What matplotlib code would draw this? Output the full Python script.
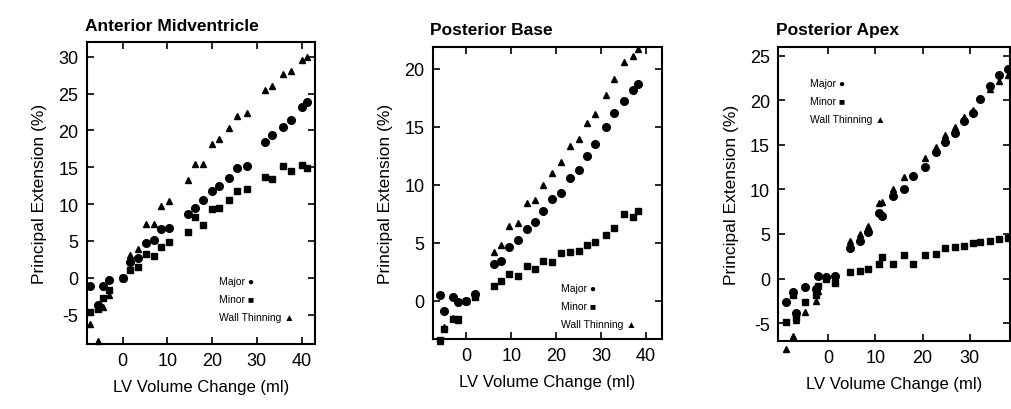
import matplotlib
matplotlib.use("Agg")
import matplotlib.pyplot as plt

plt.rcParams["font.family"] = ["Liberation Sans", "DejaVu Sans"]
plt.rcParams["axes.unicode_minus"] = False

# Anterior Midventricle
am_x = [-7.4, -5.6, -4.3, -3.0, 0, 1.6, 3.5, 5.2, 6.9, 8.5, 10.4, 14.5, 16.2, 18, 20,
        21.6, 23.8, 25.6, 27.7, 31.8, 33.4, 35.9, 37.6, 40.2, 41.3]
am_major = [-1.1, -3.7, -1.1, -0.3, 0, 2.2, 2.7, 4.7, 5.1, 6.6, 6.7, 8.6, 9.4, 10.5, 11.8,
            12.5, 13.5, 14.9, 15.2, 18.4, 19.4, 20.4, 21.4, 23.2, 23.9]
am_minor = [-4.7, -4.2, -2.7, -1.7, 0, 1.0, 1.5, 3.2, 3.0, 4.2, 4.9, 6.2, 8.3, 7.1, 9.3,
            9.5, 10.5, 11.8, 12.1, 13.7, 13.4, 15.1, 14.5, 15.3, 14.9]
am_wall = [-6.3, -8.6, -4.0, -2.3, 0, 3.1, 3.9, 7.3, 7.3, 9.8, 10.4, 13.2, 15.5, 15.5, 18.2,
           18.8, 20.3, 22.0, 22.4, 25.5, 26.0, 27.6, 28.1, 29.5, 29.9]

# Posterior Base
pb_x = [-5.8, -4.9, -3.0, -1.9, 0, 2.0, 6.1, 7.7, 9.4, 11.6, 13.6, 15.3, 17.0, 19.0,
        21.0, 23.1, 25.0, 26.8, 28.7, 31.0, 32.9, 35.1, 37.0, 38.3]
pb_major = [0.5, -0.9, 0.3, -0.1, 0, 0.6, 3.2, 3.4, 4.6, 5.2, 6.2, 6.8, 7.7, 8.75,
            9.3, 10.6, 11.3, 12.5, 13.5, 15.0, 16.2, 17.2, 18.2, 18.7]
pb_minor = [-3.4, -2.4, -1.6, -1.6, 0, 0.3, 1.3, 1.7, 2.3, 2.1, 3.0, 2.7, 3.4, 3.3,
            4.1, 4.2, 4.3, 4.8, 5.1, 5.7, 6.3, 7.5, 7.2, 7.7]
pb_wall = [-3.5, -2.3, -1.5, -1.7, 0, 0.5, 4.2, 4.8, 6.4, 6.7, 8.4, 8.7, 10.0, 11.0,
           12.0, 13.3, 13.9, 15.3, 16.1, 17.7, 19.1, 20.6, 21.1, 21.7]

# Posterior Apex
pa_x = [-9.0, -7.4, -6.8, -4.9, -2.5, -2.1, -0.4, 1.4, 4.7, 6.7, 8.5, 10.7, 11.5, 13.8,
        16.0, 18.0, 20.5, 22.8, 24.8, 26.8, 28.8, 30.6, 32.1, 34.4, 36.2, 38.1]
pa_major = [-2.6, -1.5, -3.9, -1.0, -1.2, 0.3, 0.2, 0.3, 3.4, 4.2, 5.2, 7.4, 7.0, 9.3,
            10.0, 11.5, 12.5, 14.2, 15.3, 16.3, 17.7, 18.6, 20.1, 21.6, 22.8, 23.5]
pa_minor = [-4.9, -1.8, -4.4, -2.6, -1.8, -0.8, 0.0, -0.45, 0.75, 0.9, 1.1, 1.6, 2.4, 1.6,
            2.6, 1.6, 2.6, 2.7, 3.4, 3.5, 3.7, 4.0, 4.1, 4.2, 4.4, 4.6]
pa_wall = [-7.9, -6.4, -4.6, -3.8, -2.5, -1.4, 0.2, 0.3, 4.2, 5.0, 5.9, 8.5, 8.6, 10.0,
           11.4, 11.6, 13.5, 14.8, 16.1, 17.0, 18.1, 18.9, 20.3, 21.3, 22.1, 22.8]

panels = [
    ("Anterior Midventricle", am_x, am_major, am_minor, am_wall,
     [0.086, 0.1585, 0.2255, 0.7366], (-8, 43), (-9, 32),
     [0, 10, 20, 30, 40], [-5, 0, 5, 10, 15, 20, 25, 30], (0.58, 0.225)),
    ("Posterior Base", pb_x, pb_major, pb_minor, pb_wall,
     [0.428, 0.1707, 0.2265, 0.713], (-7.5, 43.5), (-3.3, 21.9),
     [0, 10, 20, 30, 40], [0, 5, 10, 15, 20], (0.56, 0.19)),
    ("Posterior Apex", pa_x, pa_major, pa_minor, pa_wall,
     [0.7698, 0.1659, 0.229, 0.7178], (-10.6, 38.5), (-7, 26),
     [0, 10, 20, 30], [-5, 0, 5, 10, 15, 20, 25], (0.135, 0.895)),
]

fig = plt.figure(figsize=(10.11, 4.10), dpi=100)
for title, x, major, minor, wall, rect, xl, yl, xt, yt, legpos in panels:
    ax = fig.add_axes(rect)
    ax.plot(x, major, "o", color="black", ms=5.5, clip_on=False)
    ax.plot(x, minor, "s", color="black", ms=5, clip_on=False)
    ax.plot(x, wall, "^", color="black", ms=4.5, clip_on=False)
    ax.set_xlim(*xl)
    ax.set_ylim(*yl)
    ax.set_xticks(xt)
    ax.set_yticks(yt)
    ax.tick_params(direction="in", top=True, right=True, length=5, width=1.2,
                   labelsize=13, pad=6)
    for s in ax.spines.values():
        s.set_linewidth(1.5)
    ax.set_title(title, loc="left", fontweight="bold", fontsize=12.5, pad=9, x=-0.01)
    ax.set_xlabel("LV Volume Change (ml)", fontsize=12, labelpad=7)
    ax.set_ylabel("Principal Extension (%)", fontsize=12.5, labelpad=8)
    lx, ly = legpos
    ax.text(lx, ly, "Major \u25cf\nMinor \u25a0\nWall Thinning \u25b2",
            transform=ax.transAxes, fontsize=7.5, linespacing=2.0, va="top")

fig.savefig("out.png", dpi=100)
